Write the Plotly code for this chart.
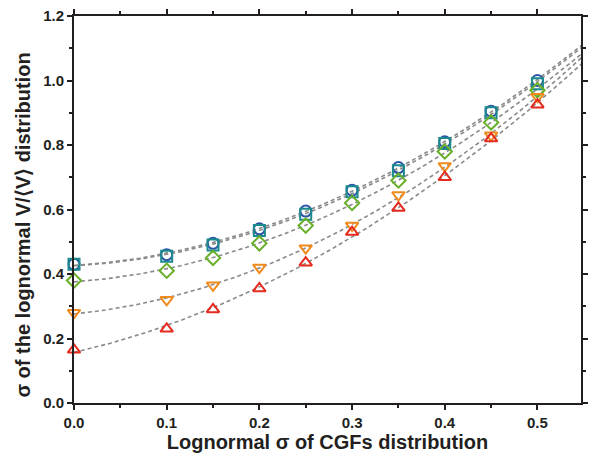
import numpy as np
import plotly.graph_objects as go

# CGF spread (lognormal sigma) at which each case was evaluated
sigma_cgf = [0.0, 0.1, 0.15, 0.2, 0.25, 0.3, 0.35, 0.4, 0.45, 0.5]

# spread of the resulting V/<V> distribution for each case
sig_circle = [0.43, 0.46, 0.495, 0.54, 0.595, 0.66, 0.73, 0.81, 0.905, 1.00]
sig_square = [0.43, 0.455, 0.49, 0.535, 0.585, 0.655, 0.72, 0.805, 0.90, 0.99]
sig_diamond = [0.38, 0.41, 0.45, 0.495, 0.55, 0.62, 0.69, 0.78, 0.87, 0.97]
sig_down = [0.28, 0.32, 0.365, 0.42, 0.48, 0.55, 0.645, 0.735, 0.83, 0.95]
sig_up = [0.165, 0.23, 0.29, 0.355, 0.435, 0.53, 0.605, 0.70, 0.82, 0.925]

series = [
    (sig_circle, "circle-open", "#2b55a8"),
    (sig_square, "square-open", "#1b8a8c"),
    (sig_diamond, "diamond-open", "#68b02a"),
    (sig_down, "triangle-down-open", "#f08a1c"),
    (sig_up, "triangle-up-open", "#e52a1e"),
]

fig = go.Figure()
x_fit = np.linspace(0, 0.56, 200)

# quadratic fit curves (dashed) behind markers
for ys, _, _ in series:
    coef = np.polyfit(sigma_cgf, ys, 2)
    fig.add_trace(go.Scatter(
        x=x_fit, y=np.polyval(coef, x_fit), mode="lines",
        line=dict(color="#8a8a8a", width=1.6, dash="4px,3px"),
        hoverinfo="skip", showlegend=False))

for ys, sym, col in series:
    fig.add_trace(go.Scatter(
        x=sigma_cgf, y=ys, mode="markers",
        marker=dict(symbol=sym, size=11, color=col, line=dict(color=col, width=2)),
        showlegend=False, cliponaxis=False))

font_family = "Liberation Sans, Arial, sans-serif"
ink = "#231f20"
axis_common = dict(
    showline=True, linecolor=ink, linewidth=2, mirror="ticks",
    ticks="outside", ticklen=5, tickwidth=2, tickcolor=ink,
    showgrid=False, zeroline=False,
    tickfont=dict(family=font_family, size=15, color=ink, weight="bold"),
)

fig.update_layout(
    width=594, height=456,
    margin=dict(l=74, r=6, t=16, b=53),
    paper_bgcolor="white", plot_bgcolor="white",
    xaxis=dict(
        range=[0, 0.547], dtick=0.1, tickformat=".1f",
        minor=dict(dtick=0.05, ticks="outside", ticklen=3, tickwidth=2, tickcolor=ink),
        title=dict(text="Lognormal σ of CGFs distribution", standoff=0,
                   font=dict(family=font_family, size=20, color=ink, weight="bold")),
        **axis_common),
    yaxis=dict(
        range=[0, 1.2], dtick=0.2, tickformat=".1f",
        minor=dict(dtick=0.1, ticks="outside", ticklen=3, tickwidth=2, tickcolor=ink),
        **axis_common),
)

# vertical y-axis title, placed as a rotated annotation
fig.add_annotation(
    text="σ of the lognormal V/⟨V⟩ distribution",
    xref="paper", yref="y", x=0, y=0.55, xanchor="right", yanchor="middle",
    xshift=-38, textangle=-90, showarrow=False,
    font=dict(family=font_family, size=20, color=ink, weight="bold"))

fig.write_html("out.html")
